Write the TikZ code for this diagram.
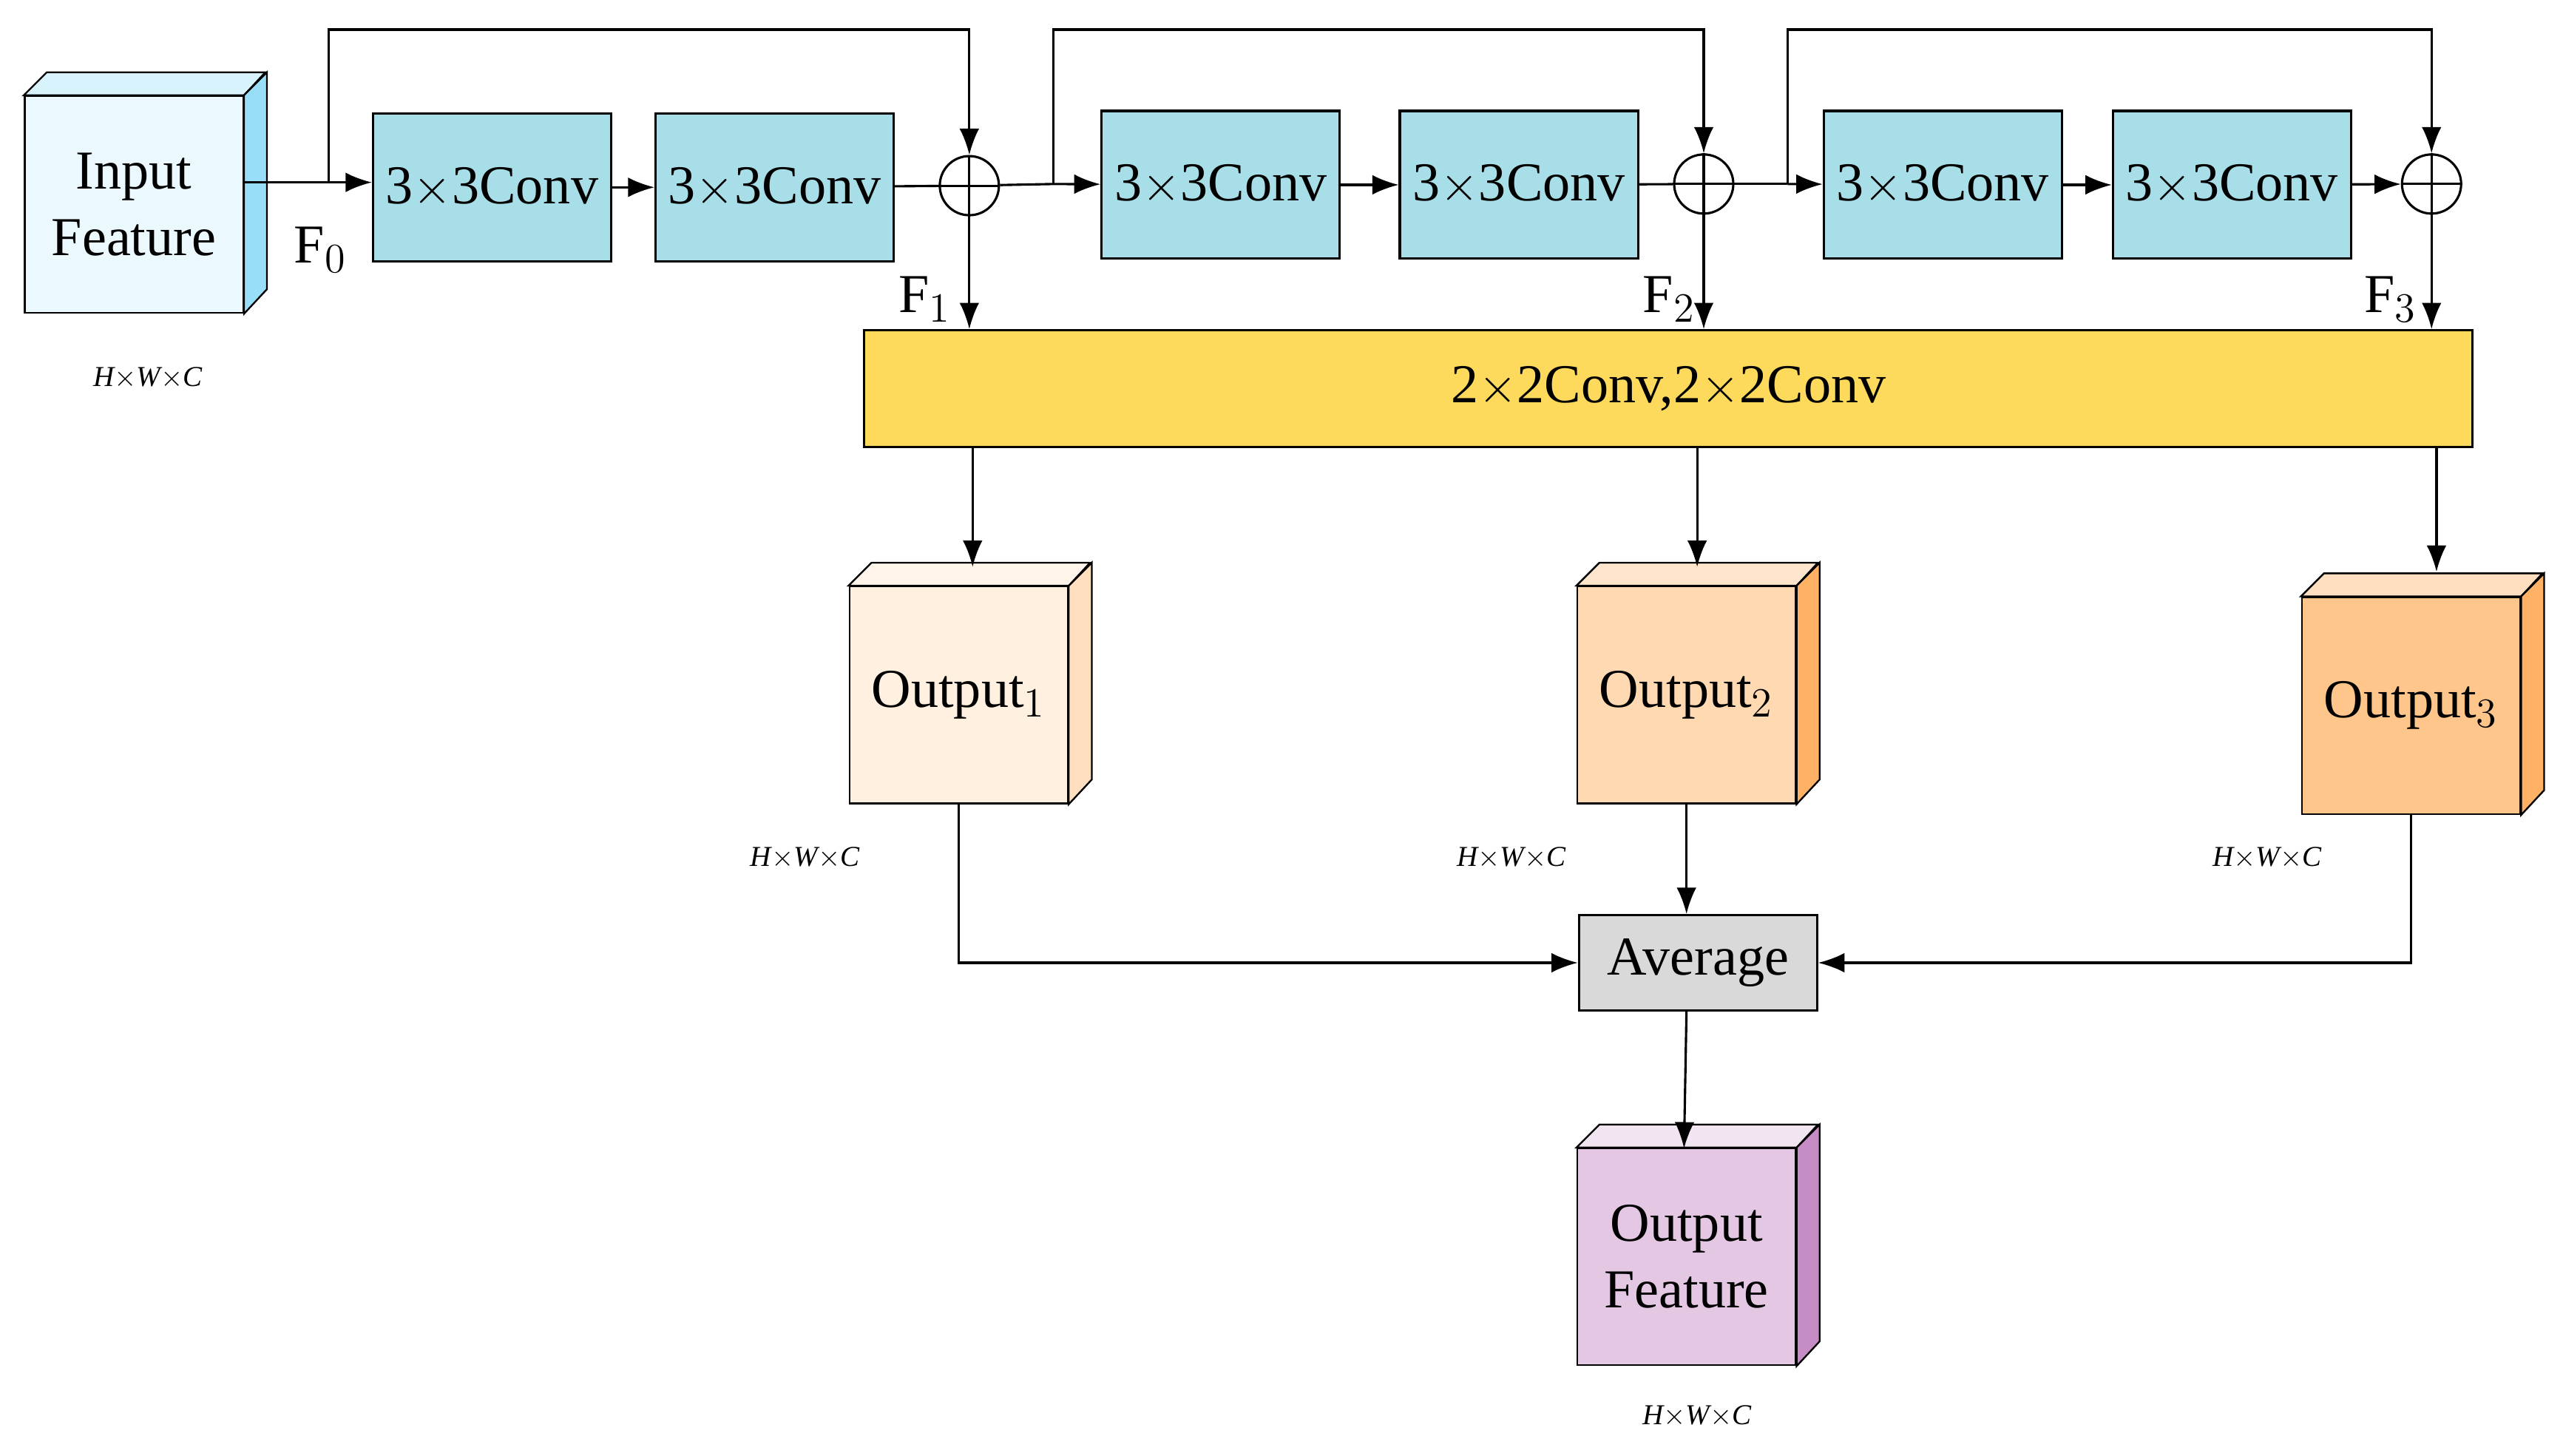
\documentclass[tikz,border=0pt]{standalone}
\usepackage{fontspec}
\setmainfont{Liberation Serif}
\usetikzlibrary{arrows.meta,positioning}

\definecolor{convc}{HTML}{A8DEE8}
\definecolor{barc}{HTML}{FDD95C}
\definecolor{avgc}{HTML}{D9D9D9}

\tikzset{
  box/.style={draw, line width=0.8pt, minimum width=2.9cm, minimum height=1.8cm, fill=convc},
  cube/.style={draw, line width=0.6pt, minimum width=2.66cm, minimum height=2.64cm, align=center},
  plus/.style={draw, circle, line width=0.8pt, minimum size=0.72cm, inner sep=0pt},
  arr/.style={-{Latex[length=3.2mm,width=2.4mm]}, line width=0.8pt},
  ln/.style={line width=0.8pt},
  dim/.style={font=\itshape}
}

% cube faces: name, top colour, side colour
\newcommand{\cubefaces}[3]{
  \filldraw[fill=#2, line width=0.6pt] (#1.north west) -- ++(14,-14) -- ++(133,0) -- (#1.north east) -- cycle;
  \filldraw[fill=#3, line width=0.6pt] (#1.north east) -- ++(14,-14) -- ++(0,132) -- (#1.south east) -- cycle;
}

\begin{document}
\begin{tikzpicture}[x=0.02cm, y=-0.02cm, font=\fontsize{19}{23}\selectfont]
\useasboundingbox (0,0) rectangle (1560,886);

% input
\node[cube, fill=cyan!8!white] (in) at (81.5,124.5) {Input\\Feature};
\cubefaces{in}{cyan!15!white}{cyan!40!white}
\node[dim] (d0) at (90,230) {H$\times$W$\times$C};

% conv blocks
\node[box] (a1) at (299.5,114) {3$\times$3Conv};
\node[box] (b1) at (471.5,114) {3$\times$3Conv};
\node[plus] (p1) at (590,113) {};
\node[box] (a2) at (743,112.5) {3$\times$3Conv};
\node[box] (b2) at (924.5,112.5) {3$\times$3Conv};
\node[plus] (p2) at (1037,112) {};
\node[box] (a3) at (1182.5,112.5) {3$\times$3Conv};
\node[box] (b3) at (1358.5,112.5) {3$\times$3Conv};
\node[plus] (p3) at (1480,112) {};
\foreach \p in {p1,p2,p3}
{
  \draw[ln] (\p.north) -- (\p.south);
  \draw[ln] (\p.west) -- (\p.east);
}

% skips
\coordinate (s1) at (200,111);
\coordinate (s2) at (641,112);
\coordinate (s3) at (1088,112);
\draw[ln] (in.east |- s1) -- (s1);
\draw[arr] (s1) -- (a1.west |- s1);
\draw[arr] (a1) -- (b1);
\draw[ln] (b1) -- (p1);
\draw[ln] (p1) -- (s2);
\draw[arr] (s2) -- (a2);
\draw[arr] (a2) -- (b2);
\draw[ln] (b2) -- (p2);
\draw[ln] (p2) -- (s3);
\draw[arr] (s3) -- (a3);
\draw[arr] (a3) -- (b3);
\draw[arr] (b3) -- (p3);
\draw[arr] (s1) |- (590,18) -- (p1.north);
\draw[arr] (s2) |- (1037,18) -- (p2.north);
\draw[arr] (s3) |- (1480,18) -- (p3.north);
\node (f0) at (195,152) {F$_0$};

% bar
\node[draw, line width=0.8pt, fill=barc, minimum width=19.58cm, minimum height=1.42cm] (bar) at (1015.5,236.5) {2$\times$2Conv,2$\times$2Conv};
\draw[arr] (p1.south) -- (p1 |- bar.north);
\draw[arr] (p2.south) -- (p2 |- bar.north);
\draw[arr] (p3.south) -- (p3 |- bar.north);
\node (f1) at (563,182) {F$_1$};
\node (f2) at (1016,182) {F$_2$};
\node (f3) at (1455,182) {F$_3$};

% outputs
\node[cube, fill=orange!12!white] (o1) at (583.5,423) {Output$_1$};
\cubefaces{o1}{orange!8!white}{orange!25!white}
\node[cube, fill=orange!30!white] (o2) at (1026.5,423) {Output$_2$};
\cubefaces{o2}{orange!20!white}{orange!60!white}
\node[cube, fill=orange!45!white] (o3) at (1467.5,429.5) {Output$_3$};
\cubefaces{o3}{orange!25!white}{orange!60!white}
\draw[arr] (592,272) -- (592,345);
\draw[arr] (1033,272) -- (1033,345);
\draw[arr] (1483,272) -- (1483,348);
\node[dim] (d1) at (490,522) {H$\times$W$\times$C};
\node[dim] (d2) at (920,522) {H$\times$W$\times$C};
\node[dim] (d3) at (1380,522) {H$\times$W$\times$C};

% average
\node[draw, line width=0.8pt, fill=avgc, minimum width=2.9cm, minimum height=1.16cm] (avg) at (1033.5,586) {Average};
\draw[arr] (o1.south) |- (avg.west);
\draw[arr] (o2.south) -- (o2.south |- avg.north);
\draw[arr] (o3.south) |- (avg.east);

% result
\node[cube, fill=violet!22!white] (out) at (1026.5,765) {Output\\Feature};
\cubefaces{out}{violet!10!white}{violet!45!white}
\draw[arr] (avg.south -| o2.south) -- (1025,699);
\node[dim] (d4) at (1033,862) {H$\times$W$\times$C};
\end{tikzpicture}
\end{document}
